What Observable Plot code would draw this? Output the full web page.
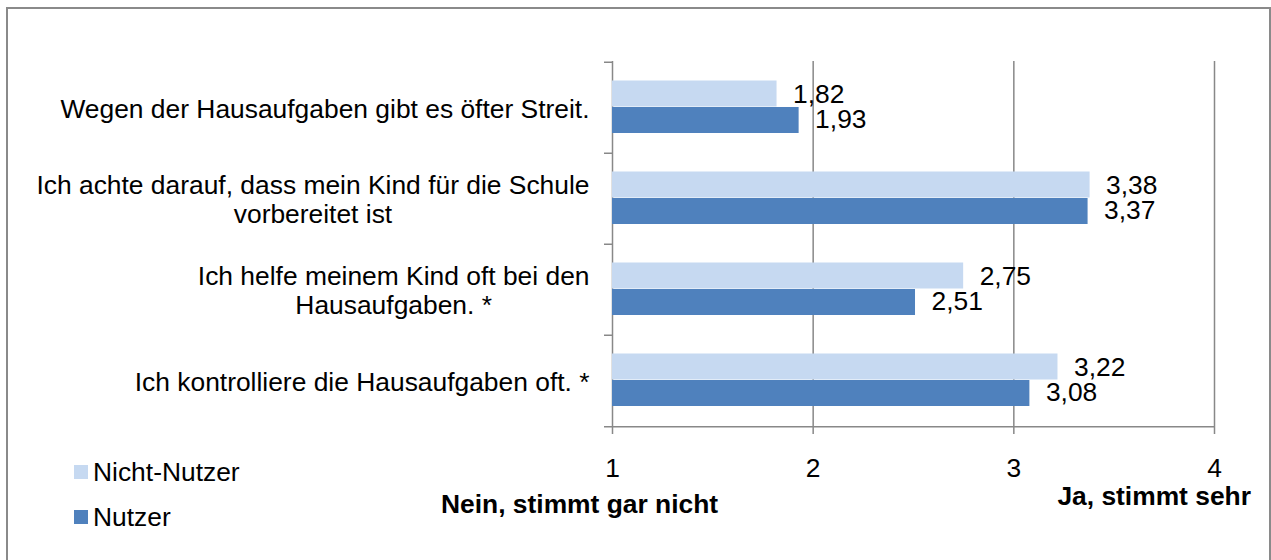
<!DOCTYPE html>
<html>
<head>
<meta charset="utf-8">
<script src="https://cdn.jsdelivr.net/npm/d3@7"></script>
<script src="https://cdn.jsdelivr.net/npm/@observablehq/plot@0.6"></script>
<style>
  html, body { margin: 0; padding: 0; background: #fff; }
  #wrap { position: relative; width: 1271px; height: 560px; overflow: hidden; font-family: "Liberation Sans", Arial, sans-serif; color: #000; }
  #border { position: absolute; left: 6px; top: 7px; width: 1265px; height: 620px; border: 2px solid #8a8a8a; box-sizing: border-box; }
  #chart { position: absolute; left: 0; top: 0; }
  .lab { position: absolute; font-size: 26.4px; line-height: 30px; white-space: nowrap; }
  .bold { font-weight: bold; }
  .sw { position: absolute; width: 14px; height: 14px; }
</style>
</head>
<body>
<div id="wrap">
  <div id="border"></div>
  <div id="chart"></div>
  <div class="sw" id="sw0" style="left:74px; top:465px;"></div>
  <div class="lab" id="lg0" style="left:93px; top:457px;"></div>
  <div class="sw" id="sw1" style="left:74px; top:510px;"></div>
  <div class="lab" id="lg1" style="left:93px; top:502px;"></div>
  <div class="lab bold" id="tLeft" style="left:441px; top:489px;"></div>
  <div class="lab bold" id="tRight" style="right:20px; top:481px;"></div>
</div>
<script>
const categories = [
  "Wegen der Hausaufgaben gibt es öfter Streit.",
  "Ich achte darauf, dass mein Kind für die Schule\nvorbereitet ist",
  "Ich helfe meinem Kind oft bei den\nHausaufgaben. *",
  "Ich kontrolliere die Hausaufgaben oft. *"
];
const series = ["Nicht-Nutzer", "Nutzer"];
const nichtNutzer = [1.82, 3.38, 2.75, 3.22];
const nutzer = [1.93, 3.37, 2.51, 3.08];
const xTicks = [1, 2, 3, 4];
const axisTitles = ["Nein, stimmt gar nicht", "Ja, stimmt sehr"];
const colors = ["#c6d9f1", "#4f81bd"];

const rowsA = categories.map((c, i) => ({category: c, series: series[0], value: nichtNutzer[i]}));
const rowsB = categories.map((c, i) => ({category: c, series: series[1], value: nutzer[i]}));
const fmt = v => d3.format(".2f")(v).replace(".", ",");

const fontSize = 26.4;
const fontFamily = "'Liberation Sans', Arial, sans-serif";
const marginTop = 61, marginBottom = 133, H = 560;
const band = (H - marginTop - marginBottom) / categories.length;
const half = band / 2;
const grey = "#888888";
const labelPad = 23;

// measure the widest line of each category label, so lines can be centred in a right-aligned block
const ctx = document.createElement("canvas").getContext("2d");
ctx.font = `${fontSize}px ${fontFamily}`;
const blockWidth = c => Math.max(...c.split("\n").map(s => ctx.measureText(s).width));

const chart = Plot.plot({
  width: 1271,
  height: H,
  marginLeft: 612,
  marginRight: 57,
  marginTop,
  marginBottom,
  style: {fontFamily, fontSize: fontSize + "px", color: "#000", background: "transparent", overflow: "visible"},
  x: {domain: [xTicks[0], xTicks[xTicks.length - 1]]},
  y: {domain: categories, padding: 0, axis: null},
  marks: [
    Plot.ruleX(xTicks, {stroke: grey, strokeWidth: 1.5, insetBottom: -7}),
    Plot.ruleY(categories, {dy: -half, x1: xTicks[0], x2: xTicks[0], insetLeft: -8, stroke: grey, strokeWidth: 1.5}),
    Plot.ruleY(categories.slice(-1), {dy: half, insetLeft: -8, stroke: grey, strokeWidth: 1.5}),
    Plot.barX(rowsA, {y: "category", x1: xTicks[0], x2: "value", fill: colors[0], insetTop: 18.5, insetBottom: band - 18.5 - 26.5}),
    Plot.barX(rowsB, {y: "category", x1: xTicks[0], x2: "value", fill: colors[1], insetTop: 45, insetBottom: band - 45 - 26.5}),
    Plot.text(rowsA, {x: "value", y: "category", text: d => fmt(d.value), dx: 16, dy: -13.5, textAnchor: "start", fontSize, fill: "#000"}),
    Plot.text(rowsB, {x: "value", y: "category", text: d => fmt(d.value), dx: 16, dy: 11.5, textAnchor: "start", fontSize, fill: "#000"}),
    ...categories.map(c => Plot.text([c], {
      y: d => d, text: d => d, frameAnchor: "left", textAnchor: "middle",
      dx: -(labelPad + blockWidth(c) / 2), lineHeight: 1.13, fontSize, fill: "#000"
    })),
    Plot.axisX({ticks: xTicks, tickSize: 0, tickPadding: 31, label: null, fontSize, tickFormat: d => String(d)})
  ]
});
document.getElementById("chart").appendChild(chart);

document.getElementById("sw0").style.background = colors[0];
document.getElementById("sw1").style.background = colors[1];
document.getElementById("lg0").textContent = series[0];
document.getElementById("lg1").textContent = series[1];
document.getElementById("tLeft").textContent = axisTitles[0];
document.getElementById("tRight").textContent = axisTitles[1];
</script>
</body>
</html>
